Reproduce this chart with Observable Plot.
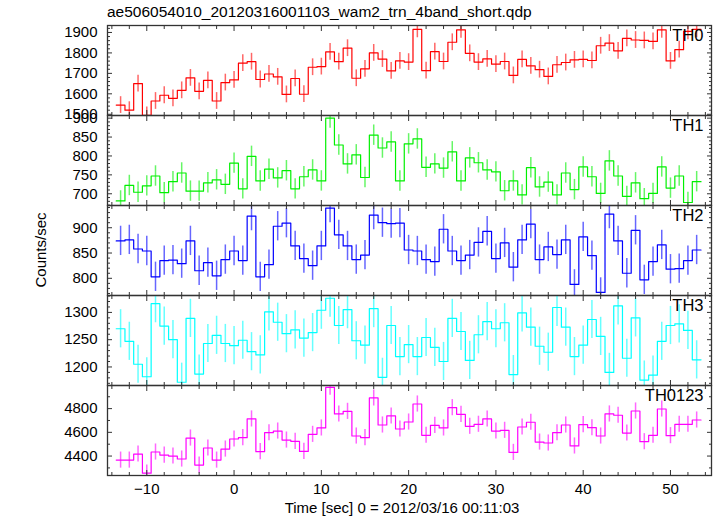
<!DOCTYPE html>
<html><head><meta charset="utf-8">
<script src="https://cdn.jsdelivr.net/npm/d3@7"></script>
<script src="https://cdn.jsdelivr.net/npm/@observablehq/plot@0.6"></script>
<style>
body{margin:0;background:#fff;font-family:"Liberation Sans",Arial,Helvetica,sans-serif;}
#wrap{position:relative;width:717px;height:516px;overflow:hidden;background:#fff;}
.title{position:absolute;left:107px;top:3px;font-size:15.5px;color:#000;white-space:nowrap;}
.ylab{position:absolute;left:40px;top:250px;font-size:15px;transform:translate(-50%,-50%) rotate(-90deg);white-space:nowrap;}
.xlab{position:absolute;left:402px;top:507px;font-size:15px;transform:translate(-50%,-50%);white-space:nowrap;}
</style></head>
<body><div id="wrap"></div>
<script>
const titleText = "ae506054010_20120316001103_wam2_trn_4band_short.qdp";
const xTitle = "Time [sec] 0 = 2012/03/16 00:11:03";
const yTitle = "Counts/sec";

const times = [-13,-12,-11,-10,-9,-8,-7,-6,-5,-4,-3,-2,-1,0,1,2,3,4,5,6,7,8,9,10,11,12,13,14,15,16,17,18,19,20,21,22,23,24,25,26,27,28,29,30,31,32,33,34,35,36,37,38,39,40,41,42,43,44,45,46,47,48,49,50,51,52,53];

const th0 = [1545,1520,1650,1495,1565,1593,1578,1617,1678,1612,1666,1565,1655,1668,1750,1757,1670,1697,1683,1597,1675,1598,1730,1733,1805,1757,1823,1676,1722,1800,1770,1712,1761,1755,1915,1713,1806,1758,1852,1913,1798,1755,1771,1745,1758,1690,1768,1737,1718,1685,1742,1753,1766,1768,1763,1835,1848,1810,1871,1863,1861,1856,1913,1761,1816,1905,1915];
const th1 = [681,722,704,721,747,703,732,755,707,707,729,737,725,781,713,799,734,765,742,761,713,745,763,734,900,829,779,803,743,855,821,837,734,832,845,770,779,768,811,734,795,782,763,758,708,734,697,769,718,731,697,755,711,771,745,701,787,747,693,729,687,701,771,715,747,677,732];
const th2 = [874,876,858,854,803,835,836,829,874,815,831,805,837,854,835,923,803,827,903,909,864,839,825,864,939,886,864,837,846,925,910,908,909,856,854,837,833,897,854,835,846,871,893,839,870,822,876,907,837,862,847,876,788,882,845,772,927,874,810,895,797,833,866,818,819,835,856];
const th3 = [1270,1247,1205,1182,1316,1275,1250,1172,1289,1187,1243,1258,1243,1239,1249,1228,1222,1301,1282,1261,1268,1253,1263,1304,1326,1276,1305,1248,1240,1307,1181,1276,1219,1241,1219,1254,1236,1210,1289,1265,1212,1259,1283,1270,1281,1186,1299,1273,1238,1227,1309,1273,1219,1240,1287,1256,1190,1312,1216,1290,1176,1185,1247,1276,1279,1267,1213];
const th0123 = [4366,4366,4417,4256,4434,4408,4400,4375,4552,4324,4468,4366,4459,4544,4555,4713,4437,4597,4611,4535,4524,4439,4583,4637,4980,4755,4777,4569,4555,4890,4662,4738,4628,4687,4839,4575,4659,4637,4808,4752,4651,4668,4713,4611,4617,4431,4645,4685,4518,4510,4597,4662,4485,4665,4639,4569,4755,4744,4594,4780,4521,4575,4797,4572,4668,4668,4704];

const bandNames = ["TH0","TH1","TH2","TH3","TH0123"];
const bandErrors = [41, 27, 29, 35, 68];
const bandColors = ["#ff0000","#00f000","#0000ff","#00ffff","#ff00ff"];
const bandDomains = [[1494,1934],[669,907],[766,944],[1166,1331],[4236,4995]];
const bandMajor = [100, 50, 50, 50, 200];
const bandMinor = [20, 10, 10, 10, 100];
const bandValues = [th0, th1, th2, th3, th0123];

const xDomain = [-14.5, 54.7];
const xMajorStep = 10, xMinorStep = 2;

const wrap = document.getElementById("wrap");
const t = document.createElement("div"); t.className = "title"; t.textContent = titleText; wrap.appendChild(t);
const yl = document.createElement("div"); yl.className = "ylab"; yl.textContent = yTitle; wrap.appendChild(yl);
const xl = document.createElement("div"); xl.className = "xlab"; xl.textContent = xTitle; wrap.appendChild(xl);

const top0 = 25, PH = 90;
const ink = "#333";
const majX = d3.range(Math.ceil(xDomain[0]/xMajorStep)*xMajorStep, xDomain[1], xMajorStep);
const minX = d3.range(Math.ceil(xDomain[0]/xMinorStep)*xMinorStep, xDomain[1], xMinorStep).filter(v => v % xMajorStep !== 0);
const blank = () => "";
const intFmt = d3.format("d");

bandNames.forEach((name, i) => {
  const last = i === bandNames.length - 1;
  const vals = bandValues[i];
  const err = bandErrors[i];
  const color = bandColors[i];
  const dom = bandDomains[i];
  const rows = times.map((tt, k) => ({t: tt, v: vals[k]}));
  const w = times[1] - times[0];
  const edges = rows.map(d => ({x: d.t - w/2, y: d.v}));
  edges.push({x: rows[rows.length-1].t + w/2, y: rows[rows.length-1].v});
  const majY = d3.range(Math.ceil(dom[0]/bandMajor[i])*bandMajor[i], dom[1], bandMajor[i]);
  const minY = d3.range(Math.ceil(dom[0]/bandMinor[i])*bandMinor[i], dom[1], bandMinor[i]).filter(v => v % bandMajor[i] !== 0);
  const mb = last ? 41 : 0;
  const marks = [
    Plot.ruleX(rows, {x: "t", y1: d => d.v - err, y2: d => d.v + err, stroke: color, strokeOpacity: 0.6, strokeWidth: 1.5, clip: true}),
    Plot.line(edges, {x: "x", y: "y", curve: "step-after", stroke: color, strokeWidth: 1.2, clip: true}),
    Plot.frame({stroke: ink, strokeWidth: 1.3}),
    Plot.axisX(majX, {anchor: "bottom", tickSize: -5, tickFormat: blank, stroke: ink, label: null}),
    Plot.axisX(minX, {anchor: "bottom", tickSize: -3, tickFormat: blank, stroke: ink, label: null}),
    Plot.axisX(majX, {anchor: "top", tickSize: -5, tickFormat: blank, stroke: ink, label: null}),
    Plot.axisX(minX, {anchor: "top", tickSize: -3, tickFormat: blank, stroke: ink, label: null}),
    Plot.axisY(majY, {anchor: "left", tickSize: -5, tickFormat: blank, stroke: ink, label: null}),
    Plot.axisY(minY, {anchor: "left", tickSize: -3, tickFormat: blank, stroke: ink, label: null}),
    Plot.axisY(majY, {anchor: "right", tickSize: -5, tickFormat: blank, stroke: ink, label: null}),
    Plot.axisY(minY, {anchor: "right", tickSize: -3, tickFormat: blank, stroke: ink, label: null}),
    Plot.axisY(majY, {anchor: "left", tickSize: 0, tickPadding: 10, tickFormat: intFmt, fontSize: 15, fill: "#000", label: null}),
    Plot.text([name], {text: d => d, frameAnchor: "top-right", dx: -8, dy: 4, lineAnchor: "top", textAnchor: "end", fontSize: 16.5, fill: "#000"})
  ];
  if (last) marks.push(Plot.axisX(majX, {anchor: "bottom", tickSize: 0, tickPadding: 8, tickFormat: intFmt, fontSize: 15, fill: "#000", label: null}));
  const svg = Plot.plot({
    width: 717, height: PH + mb,
    marginLeft: 107, marginRight: 6, marginTop: 0, marginBottom: mb,
    x: {domain: xDomain},
    y: {domain: dom},
    style: {position: "absolute", left: "0px", top: (top0 + i*PH) + "px", overflow: "visible", background: "transparent", fontFamily: "'Liberation Sans', Arial, Helvetica, sans-serif", fontSize: "15px", color: "#000"},
    marks
  });
  wrap.appendChild(svg);
});
</script>
</body></html>
